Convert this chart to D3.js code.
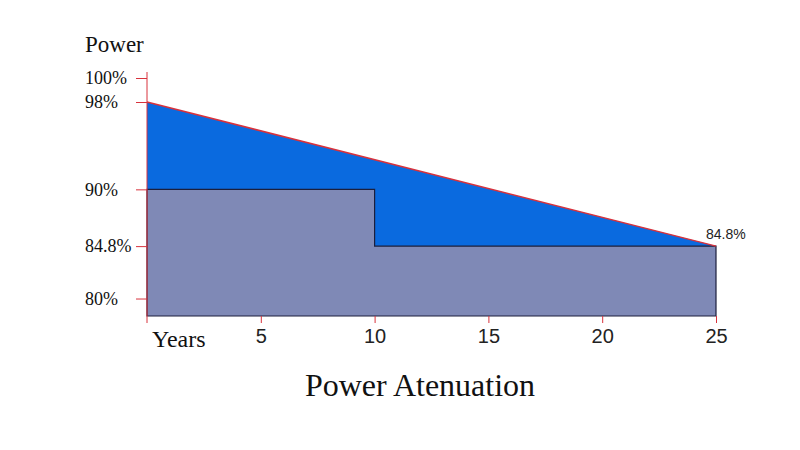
<!DOCTYPE html>
<html><head><meta charset="utf-8">
<script src="https://cdn.jsdelivr.net/npm/d3@7"></script>
<style>body{margin:0;background:#fff}svg{display:block}</style>
</head><body><svg id="c" width="800" height="450"></svg>
<script>
const linearYears = [0, 25];
const linearPower = [98, 84.8];
const stepYears = [0, 10, 10, 25];
const stepPower = [90, 90, 84.8, 84.8];
const yTickValues = [100, 98, 90, 84.8, 80];
const yTickLabels = ["100%", "98%", "90%", "84.8%", "80%"];
const xTickValues = [5, 10, 15, 20, 25];
const baseValue = 78.4;

const svg = d3.select("#c");
const x = d3.scaleLinear().domain([0, 25]).range([147, 716]);
const y = d3.scaleLinear().domain([baseValue, 98, 100]).range([316, 102, 78]);
const serif = "'Liberation Serif','Times New Roman',serif";
const sans = "'Liberation Sans',Arial,sans-serif";

const topPts = linearYears.map((d, i) => [d, linearPower[i]]);
const stepPts = stepYears.map((d, i) => [d, stepPower[i]]);

// blue area: between linear line and step line
const bluePoly = topPts.concat(stepPts.slice().reverse());
svg.append("path")
  .attr("d", d3.line().x(d => x(d[0])).y(d => y(d[1]))(bluePoly) + "Z")
  .attr("fill", "#0a6adf");

// grey area below step
svg.append("path")
  .datum(stepPts)
  .attr("d", d3.area().x(d => x(d[0])).y0(y(baseValue)).y1(d => y(d[1])))
  .attr("fill", "#7f89b6")
  .attr("stroke", "#1c1f3c")
  .attr("stroke-width", 1.2);

// red linear line
svg.append("path")
  .datum(topPts)
  .attr("d", d3.line().x(d => x(d[0])).y(d => y(d[1])))
  .attr("fill", "none").attr("stroke", "#d8323c").attr("stroke-width", 1.5);

// Y axis
const yAxis = d3.axisLeft(y).tickValues(yTickValues)
  .tickFormat((d, i) => yTickLabels[i]).tickSize(11);
const gy = svg.append("g").attr("transform", `translate(${x(0)},0)`).call(yAxis);
gy.select(".domain").remove();
gy.selectAll(".tick line").attr("stroke", "#d8323c");
gy.selectAll(".tick text").attr("font-family", serif).attr("font-size", 18).attr("fill", "#111")
  .attr("text-anchor", "start").attr("x", 85 - x(0)).attr("dy", "0.32em");
svg.append("line").attr("x1", x(0)).attr("x2", x(0)).attr("y1", 72).attr("y2", 323)
  .attr("stroke", "#d8323c").attr("stroke-width", 1);

// X axis ticks
const xAxis = d3.axisBottom(x).tickValues(xTickValues).tickSize(7);
const gx = svg.append("g").attr("transform", `translate(0,${y(baseValue)})`).call(xAxis);
gx.select(".domain").remove();
gx.selectAll(".tick line").attr("stroke", "#d8323c");
gx.selectAll(".tick text").attr("font-family", sans).attr("font-size", 20).attr("fill", "#222")
  .attr("y", 343 - y(baseValue)).attr("dy", 0);

svg.append("text").attr("x", 152).attr("y", 347)
  .attr("font-family", serif).attr("font-size", 24).attr("fill", "#111").text("Years");

svg.append("text").attr("x", 85).attr("y", 52)
  .attr("font-family", serif).attr("font-size", 23).attr("fill", "#111").text("Power");

svg.append("text").attr("x", x(25) - 10).attr("y", y(linearPower[1]) - 7)
  .attr("font-family", sans).attr("font-size", 14).attr("fill", "#222").text("84.8%");

svg.append("text").attr("x", 420).attr("y", 396).attr("text-anchor", "middle")
  .attr("font-family", serif).attr("font-size", 32).attr("fill", "#111").text("Power Atenuation");
</script></body></html>
